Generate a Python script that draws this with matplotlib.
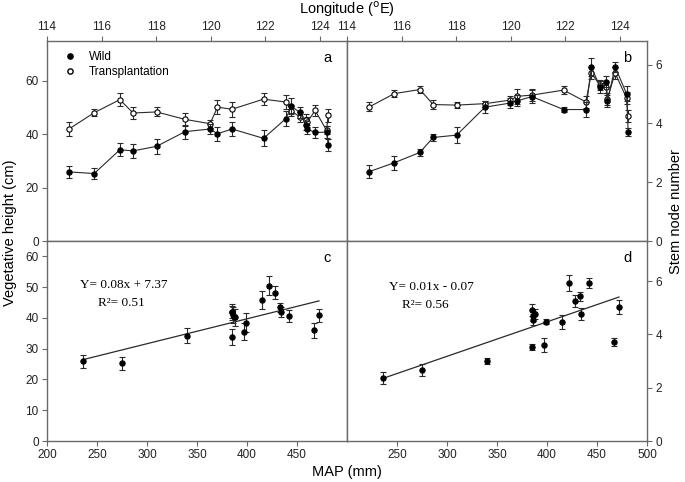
import numpy as np
import matplotlib
matplotlib.use("Agg")
import matplotlib.pyplot as plt
from matplotlib.lines import Line2D

# ---------------- data (one entry per population, ordered by longitude) ----------------
lon = [114.82, 115.73, 116.67, 117.16, 118.02, 119.06, 119.98, 120.25, 120.78,
       121.94, 122.76, 122.96, 123.27, 123.50, 123.55, 123.83, 124.25, 124.31]
map_mm = [236, 275, 340, 385, 397, 386, 385.5, 387.7, 384.7,
          399, 415, 422, 428, 433, 434, 442, 472, 467]
wild_h = [25.9, 25.3, 34.2, 33.8, 35.5, 41.0, 42.0, 40.2, 42.0,
          38.5, 45.9, 50.5, 48.2, 43.4, 41.9, 40.7, 40.8, 36.0]
wild_h_err = [2.2, 2.1, 2.5, 2.6, 2.7, 2.6, 2.0, 2.7, 2.6,
              3.0, 2.9, 3.0, 2.1, 1.6, 1.7, 2.0, 2.2, 2.4]
trans_h = [42.1, 48.1, 53.0, 48.0, 48.4, 45.6, 44.0, 50.2, 49.4,
           53.2, 52.1, 48.8, 46.5, 45.5, 44.6, 49.0, 41.5, 47.1]
trans_h_err = [2.7, 1.4, 2.4, 2.4, 1.7, 2.4, 1.5, 2.6, 2.9,
               2.2, 2.7, 2.1, 2.0, 2.0, 2.0, 2.1, 1.5, 2.3]
wild_n = [2.36, 2.66, 3.01, 3.52, 3.60, 4.55, 4.69, 4.77, 4.91,
          4.47, 4.47, 5.92, 5.25, 5.42, 4.76, 5.92, 5.01, 3.71]
wild_n_err = [0.22, 0.23, 0.12, 0.12, 0.27, 0.20, 0.18, 0.18, 0.22,
              0.10, 0.27, 0.30, 0.22, 0.18, 0.22, 0.18, 0.26, 0.14]
trans_n = [4.56, 5.01, 5.15, 4.64, 4.62, 4.67, 4.79, 4.92, 4.96,
           5.13, 4.73, 5.71, 5.30, 5.24, 4.84, 5.71, 4.86, 4.24]
trans_n_err = [0.15, 0.12, 0.12, 0.15, 0.10, 0.10, 0.15, 0.25, 0.20,
               0.13, 0.20, 0.20, 0.15, 0.20, 0.20, 0.20, 0.20, 0.20]

lon_ticks = [114, 116, 118, 120, 122, 124]
height_ticks_top = [0, 20, 40, 60]
height_ticks_bottom = [0, 10, 20, 30, 40, 50, 60]
node_ticks = [0, 2, 4, 6]
map_ticks_c = [200, 250, 300, 350, 400, 450]
map_ticks_d = [250, 300, 350, 400, 450, 500]

eq_c = ["Y= 0.08x + 7.37", "R\u00b2= 0.51"]
eq_d = ["Y= 0.01x - 0.07", "R\u00b2= 0.56"]
series_names = ["Wild", "Transplantation"]

# ---------------- style ----------------
plt.rcParams['font.family'] = ['Liberation Sans', 'DejaVu Sans']
LINE = '#2a2a2a'
SPINE = '#6a6a6a'
W, H = 685, 482
fig = plt.figure(figsize=(W / 100, H / 100), dpi=100)


def rect(x0, y0, x1, y1):
    return [x0 / W, 1 - y1 / H, (x1 - x0) / W, (y1 - y0) / H]


ax_a = fig.add_axes(rect(47, 41, 347, 241))
ax_b = fig.add_axes(rect(347, 41, 647, 241))
ax_c = fig.add_axes(rect(47, 241, 347, 441))
ax_d = fig.add_axes(rect(347, 241, 647, 441))

for ax in (ax_a, ax_b, ax_c, ax_d):
    for s in ax.spines.values():
        s.set_color(SPINE)
        s.set_linewidth(1.0)
    ax.tick_params(direction='out', length=3.5, width=0.8, color=SPINE,
                   labelsize=8.5, pad=2.5, labelcolor='#222222')

MS = 3.8
eb_kw = dict(lw=0.8, color=LINE, ecolor=LINE, elinewidth=0.8, capsize=2.2,
             capthick=0.8, marker='o', markersize=MS, markeredgecolor='black',
             markeredgewidth=0.8)


def plot_pair(ax, x, yw, ew, yt, et):
    ax.errorbar(x, yt, yerr=et, markerfacecolor='white', zorder=3, **eb_kw)
    ax.errorbar(x, yw, yerr=ew, markerfacecolor='black', zorder=4, **eb_kw)


# panel a
plot_pair(ax_a, lon, wild_h, wild_h_err, trans_h, trans_h_err)
ax_a.set_xlim(114, 125)
ax_a.set_ylim(0, 75)
ax_a.xaxis.tick_top()
ax_a.set_xticks(lon_ticks)
ax_a.set_yticks(height_ticks_top)
ax_a.tick_params(axis='x', bottom=False, labelbottom=False)
handles = [Line2D([], [], ls='none', marker='o', markersize=MS, mfc='black', mec='black'),
           Line2D([], [], ls='none', marker='o', markersize=MS, mfc='white', mec='black')]
ax_a.legend(handles, series_names, loc='upper left', frameon=False, fontsize=8.5,
            bbox_to_anchor=(0.03, 0.985), handletextpad=1.0, labelspacing=0.25,
            handlelength=1.2, borderaxespad=0.2)
ax_a.text(0.935, 0.895, 'a', transform=ax_a.transAxes, fontsize=10.5, ha='center')

# panel b
plot_pair(ax_b, lon, wild_n, wild_n_err, trans_n, trans_n_err)
ax_b.set_xlim(114, 125)
ax_b.set_ylim(0, 6.8)
ax_b.xaxis.tick_top()
ax_b.yaxis.tick_right()
ax_b.set_xticks(lon_ticks)
ax_b.set_yticks(node_ticks)
ax_b.tick_params(axis='x', bottom=False, labelbottom=False)
ax_b.tick_params(axis='y', left=False, labelleft=False)
ax_b.text(0.935, 0.895, 'b', transform=ax_b.transAxes, fontsize=10.5, ha='center')

# panel c
ax_c.errorbar(map_mm, wild_h, yerr=wild_h_err, ls='none', markerfacecolor='black',
              **{k: v for k, v in eb_kw.items() if k != 'lw'})
coef_c = np.polyfit(map_mm, wild_h, 1)
xr = np.array([min(map_mm), max(map_mm)])
ax_c.plot(xr, np.polyval(coef_c, xr), color=LINE, lw=0.9)
ax_c.set_xlim(200, 500)
ax_c.set_ylim(0, 65)
ax_c.set_xticks(map_ticks_c)
ax_c.set_yticks(height_ticks_bottom)
ax_c.text(0.935, 0.895, 'c', transform=ax_c.transAxes, fontsize=10.5, ha='center')
ax_c.text(0.11, 0.765, eq_c[0], transform=ax_c.transAxes, fontsize=9.5,
          family=['Liberation Serif', 'DejaVu Serif'])
ax_c.text(0.17, 0.675, eq_c[1], transform=ax_c.transAxes, fontsize=9.5,
          family=['Liberation Serif', 'DejaVu Serif'])

# panel d
ax_d.errorbar(map_mm, wild_n, yerr=wild_n_err, ls='none', markerfacecolor='black',
              **{k: v for k, v in eb_kw.items() if k != 'lw'})
coef_d = np.polyfit(map_mm, wild_n, 1)
ax_d.plot(xr, np.polyval(coef_d, xr), color=LINE, lw=0.9)
ax_d.set_xlim(200, 500)
ax_d.set_ylim(0, 7.5)
ax_d.set_xticks(map_ticks_d)
ax_d.yaxis.tick_right()
ax_d.set_yticks(node_ticks)
ax_d.tick_params(axis='y', left=False, labelleft=False)
ax_d.text(0.935, 0.895, 'd', transform=ax_d.transAxes, fontsize=10.5, ha='center')
ax_d.text(0.14, 0.755, eq_d[0], transform=ax_d.transAxes, fontsize=9.5,
          family=['Liberation Serif', 'DejaVu Serif'])
ax_d.text(0.185, 0.665, eq_d[1], transform=ax_d.transAxes, fontsize=9.5,
          family=['Liberation Serif', 'DejaVu Serif'])

# shared labels
fig.text(347 / W, 1 - 9 / H, r'Longitude ($^{\rm o}$E)', ha='center', va='center', fontsize=10.5)
fig.text(347 / W, 1 - 472 / H, 'MAP (mm)', ha='center', va='center', fontsize=10.5)
fig.text(10 / W, 1 - 233 / H, 'Vegetative height (cm)', rotation=90, ha='center',
         va='center', fontsize=10.5)
fig.text(676 / W, 1 - 212 / H, 'Stem node number', rotation=90, ha='center',
         va='center', fontsize=10.5)

fig.savefig('out.png', dpi=100)
